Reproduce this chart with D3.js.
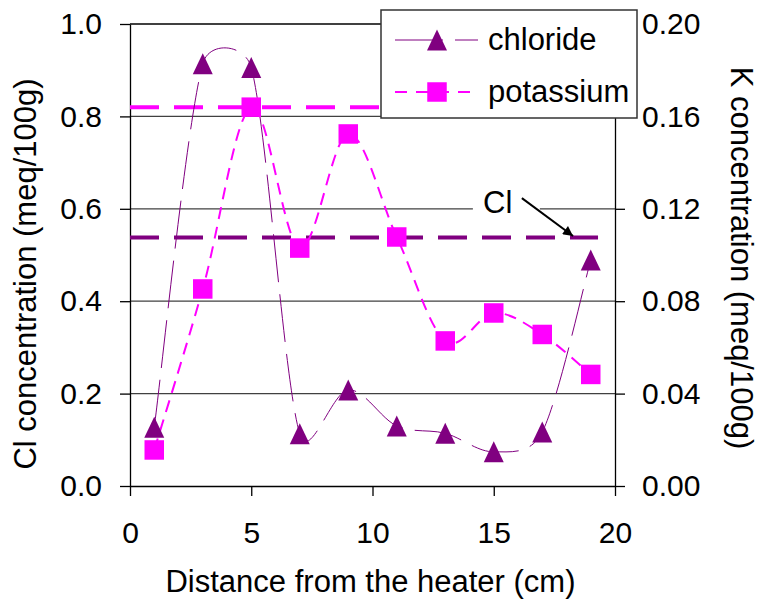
<!DOCTYPE html>
<html><head><meta charset="utf-8">
<script src="https://cdn.jsdelivr.net/npm/d3@7"></script>
<style>
body{margin:0;background:#fff}
svg{display:block}
text{font-family:"Liberation Sans",Arial,sans-serif;fill:#000}
</style>
</head><body>
<svg id="c" width="761" height="600"></svg>
<script>
// ---- data ----
const distance  = [1, 3, 5, 7, 9, 11, 13, 15, 17, 19];
const chloride  = [0.127, 0.914, 0.906, 0.113, 0.208, 0.130, 0.114, 0.074, 0.117, 0.489];
const potassium = [0.0156, 0.0853, 0.1640, 0.1030, 0.1524, 0.1078, 0.0628, 0.0749, 0.0656, 0.0483];
const xTicks  = [0, 5, 10, 15, 20];
const clTicks = [0, 0.2, 0.4, 0.6, 0.8, 1.0];
const kTicks  = [0, 0.04, 0.08, 0.12, 0.16, 0.20];
const clRef = [0.538, 0.538];        // Cl reference level (left axis)
const clRefX = [0, 19.3];
const kRef  = [0.164, 0.164];        // K reference level (right axis)
const kRefX = [0, 20];
const seriesNames = ["chloride", "potassium"];
const annotationText = "Cl";
const annotationPos = [14.56, 0.591];           // text start (x, Cl)
const annotationBox = [14.14, 16.9];            // white box x-range
const arrowFrom = [16.16, 0.623];
const arrowTo   = [18.27, 0.541];
const xTitle  = "Distance from the heater (cm)";
const clTitle = "Cl concentration (meq/100g)";
const kTitle  = "K concentration (meq/100g)";

// ---- layout ----
const L = 130, R = 615, T = 24, B = 486;
const FS = 30, FT = 31;
const purple = "#800080", magenta = "#FF00FF";
const svg = d3.select("#c");

const x   = d3.scaleLinear().domain([0, 20]).range([L, R]);
const yCl = d3.scaleLinear().domain([0, 1]).range([B, T]);
const yK  = d3.scaleLinear().domain([0, 0.2]).range([B, T]);

// Excel-like smoothing curve
function excelCurve(context) {
  let pts = [];
  return {
    areaStart() {}, areaEnd() {},
    lineStart() { pts = []; },
    point(px, py) { pts.push([+px, +py]); },
    lineEnd() {
      const n = pts.length; if (!n) return;
      context.moveTo(pts[0][0], pts[0][1]);
      for (let i = 0; i < n - 1; i++) {
        const p0 = pts[Math.max(i - 1, 0)], p1 = pts[i], p2 = pts[i + 1], p3 = pts[Math.min(i + 2, n - 1)];
        const d = Math.hypot(p2[0] - p1[0], p2[1] - p1[1]);
        let tx = p2[0] - p0[0], ty = p2[1] - p0[1], l = Math.hypot(tx, ty);
        let s = Math.min(l / 6, d / 2);
        const c1 = l > 0 ? [p1[0] + tx / l * s, p1[1] + ty / l * s] : p1;
        tx = p3[0] - p1[0]; ty = p3[1] - p1[1]; l = Math.hypot(tx, ty);
        s = Math.min(l / 6, d / 2);
        const c2 = l > 0 ? [p2[0] - tx / l * s, p2[1] - ty / l * s] : p2;
        context.bezierCurveTo(c1[0], c1[1], c2[0], c2[1], p2[0], p2[1]);
      }
    }
  };
}

const triType = { draw(ctx, size) { const w = 20, h = 21; ctx.moveTo(0, -h / 2); ctx.lineTo(w / 2, h / 2); ctx.lineTo(-w / 2, h / 2); ctx.closePath(); } };
const sqType  = { draw(ctx, size) { const s = 19.5; ctx.rect(-s / 2, -s / 2, s, s); } };

// ---- gridlines ----
svg.append("g").selectAll("line").data(clTicks.filter(d => d > 0 && d < 1)).join("line")
  .attr("x1", L).attr("x2", R).attr("y1", d => yCl(d)).attr("y2", d => yCl(d))
  .attr("stroke", "#404040").attr("stroke-width", 1.3);
svg.append("line").attr("x1", L).attr("x2", R).attr("y1", yCl(1)).attr("y2", yCl(1))
  .attr("stroke", "#000").attr("stroke-width", 1.3);

// ---- axes ----
function styleAxis(g) {
  g.selectAll("path.domain").attr("stroke", "#000").attr("stroke-width", 1.3);
  g.selectAll(".tick line").attr("stroke", "#000").attr("stroke-width", 1.3);
  g.selectAll("text").attr("font-size", FS).attr("font-family", "Liberation Sans, Arial, sans-serif").attr("fill", "#000");
}
svg.append("g").attr("transform", `translate(${L},0)`)
  .call(d3.axisLeft(yCl).tickValues(clTicks).tickFormat(d3.format(".1f")).tickSize(10).tickSizeOuter(0).tickPadding(18))
  .call(styleAxis);
svg.append("g").attr("transform", `translate(${R},0)`)
  .call(d3.axisRight(yK).tickValues(kTicks).tickFormat(d3.format(".2f")).tickSize(10).tickSizeOuter(0).tickPadding(17))
  .call(styleAxis);
svg.append("g").attr("transform", `translate(0,${B})`)
  .call(d3.axisBottom(x).tickValues(xTicks).tickFormat(d3.format("d")).tickSize(10).tickSizeOuter(0).tickPadding(26))
  .call(styleAxis);

// ---- reference lines ----
svg.append("line").attr("x1", x(kRefX[0])).attr("x2", x(kRefX[1])).attr("y1", yK(kRef[0])).attr("y2", yK(kRef[1]))
  .attr("stroke", magenta).attr("stroke-width", 4).attr("stroke-dasharray", "29,15");
svg.append("line").attr("x1", x(clRefX[0])).attr("x2", x(clRefX[1])).attr("y1", yCl(clRef[0])).attr("y2", yCl(clRef[1]))
  .attr("stroke", purple).attr("stroke-width", 4).attr("stroke-dasharray", "29,15");

// ---- series lines ----
const clData = distance.map((d, i) => [d, chloride[i]]);
const kData  = distance.map((d, i) => [d, potassium[i]]);
svg.append("path").datum(clData)
  .attr("d", d3.line().x(d => x(d[0])).y(d => yCl(d[1])).curve(excelCurve))
  .attr("fill", "none").attr("stroke", purple).attr("stroke-width", 1).attr("stroke-dasharray", "48,12");
svg.append("path").datum(kData)
  .attr("d", d3.line().x(d => x(d[0])).y(d => yK(d[1])).curve(excelCurve))
  .attr("fill", "none").attr("stroke", magenta).attr("stroke-width", 2).attr("stroke-dasharray", "12,8");

// ---- markers ----
svg.append("g").selectAll("path").data(clData).join("path")
  .attr("transform", d => `translate(${x(d[0])},${yCl(d[1])})`)
  .attr("d", d3.symbol().type(triType)).attr("fill", purple);
svg.append("g").selectAll("path").data(kData).join("path")
  .attr("transform", d => `translate(${x(d[0])},${yK(d[1])})`)
  .attr("d", d3.symbol().type(sqType)).attr("fill", magenta);

// ---- annotation ----
svg.append("rect").attr("x", x(annotationBox[0])).attr("width", x(annotationBox[1]) - x(annotationBox[0]))
  .attr("y", yCl(annotationPos[1]) - 26).attr("height", 34).attr("fill", "#fff");
svg.append("text").attr("x", x(annotationPos[0])).attr("y", yCl(annotationPos[1]))
  .attr("font-size", FT).text(annotationText);
svg.append("defs").append("marker").attr("id", "ah").attr("viewBox", "0 0 10 10")
  .attr("refX", 10).attr("refY", 5).attr("markerWidth", 6).attr("markerHeight", 5)
  .attr("orient", "auto").attr("markerUnits", "strokeWidth")
  .append("path").attr("d", "M0,0L10,5L0,10z").attr("fill", "#000");
svg.append("line").attr("x1", x(arrowFrom[0])).attr("y1", yCl(arrowFrom[1]))
  .attr("x2", x(arrowTo[0])).attr("y2", yCl(arrowTo[1]))
  .attr("stroke", "#000").attr("stroke-width", 2).attr("marker-end", "url(#ah)");

// ---- legend ----
const lg = svg.append("g").attr("transform", "translate(381,10)");
lg.append("rect").attr("width", 256).attr("height", 108).attr("fill", "#fff")
  .attr("stroke", "#333").attr("stroke-width", 1.5);
const legendItems = [
  { name: seriesNames[0], color: purple, type: triType, dash: "48,12", w: 1, cy: 30 },
  { name: seriesNames[1], color: magenta, type: sqType, dash: "12,9", w: 2, cy: 82 }
];
legendItems.forEach(it => {
  lg.append("line").attr("x1", 14).attr("x2", 97).attr("y1", it.cy).attr("y2", it.cy)
    .attr("stroke", it.color).attr("stroke-width", it.w).attr("stroke-dasharray", it.dash);
  lg.append("path").attr("transform", `translate(56,${it.cy})`).attr("d", d3.symbol().type(it.type)).attr("fill", it.color);
  lg.append("text").attr("x", 107).attr("y", it.cy + 10).attr("font-size", FT).text(it.name);
});

// ---- titles ----
svg.append("text").attr("x", (L + R) / 2 - 2).attr("y", 592).attr("text-anchor", "middle").attr("font-size", FT).text(xTitle);
svg.append("text").attr("transform", "translate(36,274) rotate(-90)").attr("text-anchor", "middle").attr("font-size", FT).text(clTitle);
svg.append("text").attr("transform", "translate(731,258) rotate(90)").attr("text-anchor", "middle").attr("font-size", FT).text(kTitle);
</script>
</body></html>
